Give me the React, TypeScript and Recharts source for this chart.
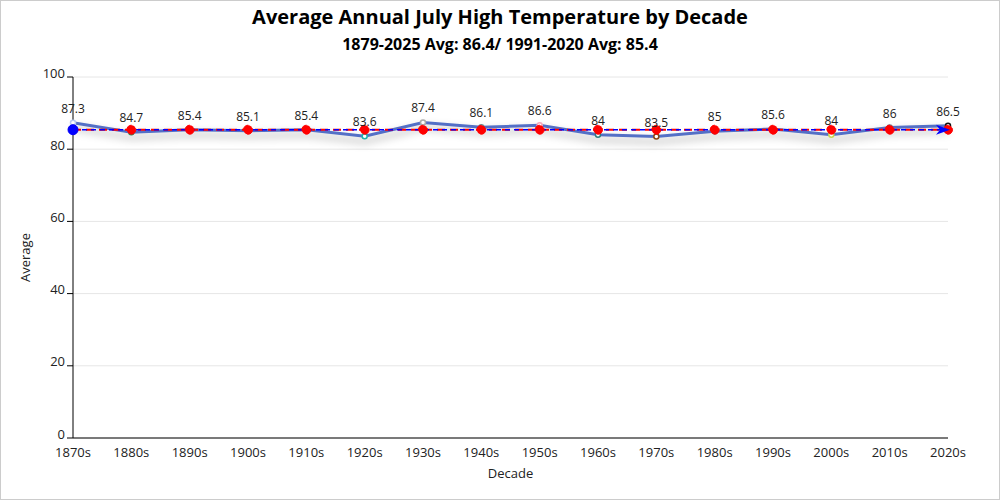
import React from 'react'
import { LineChart, Line, XAxis, YAxis, CartesianGrid, ReferenceLine, ReferenceDot, LabelList } from 'recharts'

const decades = ['1870s', '1880s', '1890s', '1900s', '1910s', '1920s', '1930s', '1940s', '1950s', '1960s', '1970s', '1980s', '1990s', '2000s', '2010s', '2020s']
const averages = [87.3, 84.7, 85.4, 85.1, 85.4, 83.6, 87.4, 86.1, 86.6, 84, 83.5, 85, 85.6, 84, 86, 86.5]
const normal = 85.4
const seriesAvg = 85.4
const yTicks = [0, 20, 40, 60, 80, 100]
const dotColors = ['#b8c8f0', '#2e8b57', '#d4a017', '#8a2be2', '#ff69b4', '#20b2aa', '#a9a9a9', '#5f9ea0', '#f4a7b9', '#2f7f7f', '#8b4513', '#4682b4', '#ff8c00', '#c8d655', '#708090', '#111111']

const data = decades.map((d, i) => ({ decade: d, avg: averages[i], normal }))

const font = '"Segoe UI", "Open Sans", "Noto Sans", sans-serif'

const SmallDot = (props: any) => {
  const { cx, cy, index } = props
  if (cx == null || cy == null) return null
  return <circle cx={cx} cy={cy} r={2.5} fill="#fff" stroke={dotColors[index]} strokeWidth={1.5} />
}

const Arrow = (props: any) => {
  const { cx, cy } = props
  if (cx == null || cy == null) return null
  return <path d={`M ${cx + 2} ${cy} L ${cx - 12} ${cy - 5} L ${cx - 8} ${cy} L ${cx - 12} ${cy + 5} Z`} fill="#0000ff" />
}

export default function App() {
  return (
    <div style={{ position: 'absolute', left: 0, top: 0, width: 1000, height: 500, boxSizing: 'border-box', border: '1px solid #ccc', background: '#fff', fontFamily: font }}>
      <style>{`.main-line .recharts-line-curve { filter: drop-shadow(0px 5px 4px rgba(0,0,0,0.35)); }`}</style>
      <div style={{ position: 'absolute', top: 2, width: '100%', textAlign: 'center', fontSize: 20, fontWeight: 700, color: '#000' }}>
        Average Annual July High Temperature by Decade
      </div>
      <div style={{ position: 'absolute', top: 32, width: '100%', textAlign: 'center', fontSize: 16, fontWeight: 700, color: '#000' }}>
        1879-2025 Avg: 86.4/ 1991-2020 Avg: 85.4
      </div>
      <LineChart width={998} height={498} data={data} margin={{ top: 76, right: 51, bottom: 11, left: 14 }} style={{ fontFamily: font }}>
        <CartesianGrid horizontal vertical={false} stroke="#e6e6e6" />
        <XAxis
          dataKey="decade"
          stroke="#000"
          tickLine={false}
          tick={{ fill: '#222', fontSize: 13, dy: 2 }}
          interval={0}
          label={{ value: 'Decade', position: 'insideBottom', offset: 0, dy: -10, fill: '#222', fontSize: 13 }}
          height={50}
        />
        <YAxis
          domain={[0, 100]}
          ticks={yTicks}
          stroke="#000"
          tick={{ fill: '#222', fontSize: 13, dy: -4 }}
          width={58}
          label={{ value: 'Average', angle: -90, position: 'insideLeft', offset: 10, fill: '#222', fontSize: 13, style: { textAnchor: 'middle' } }}
        />
        <Line
          className="main-line"
          type="linear"
          dataKey="avg"
          stroke="#5470c6"
          strokeWidth={3}
          dot={<SmallDot />}
          activeDot={false}
          isAnimationActive={false}
        >
          <LabelList dataKey="avg" position="top" offset={10} fill="#222" fontSize={12} />
        </Line>
        <Line
          type="linear"
          dataKey="normal"
          stroke="#ff0000"
          strokeWidth={2}
          strokeDasharray="8 5"
          dot={{ r: 4.5, fill: '#ff0000', stroke: '#ff0000', strokeWidth: 1 }}
          activeDot={false}
          isAnimationActive={false}
        />
        <ReferenceLine y={seriesAvg} stroke="#0000ff" strokeWidth={1.5} strokeDasharray="5 4" />
        <ReferenceDot x="1870s" y={seriesAvg} r={5} fill="#0000ff" stroke="#0000ff" />
        <ReferenceDot x="2020s" y={seriesAvg} shape={<Arrow />} />
      </LineChart>
    </div>
  )
}
